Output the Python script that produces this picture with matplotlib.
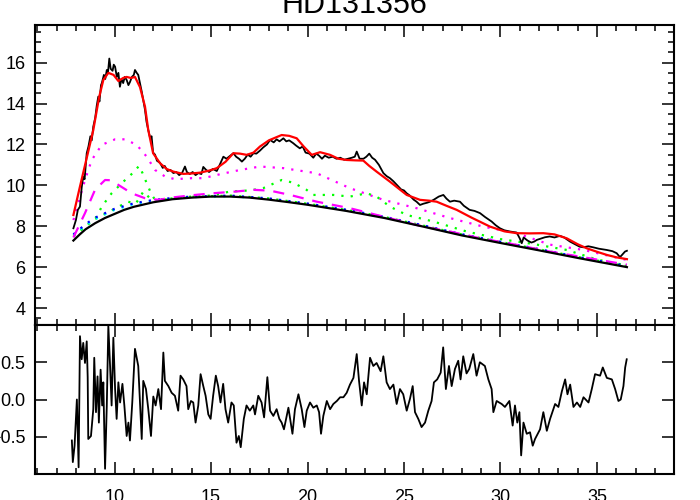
import matplotlib
matplotlib.use('Agg')
import matplotlib.pyplot as plt
from matplotlib.ticker import MultipleLocator
import numpy as np

plt.rcParams['font.family'] = ['Liberation Sans', 'DejaVu Sans']
plt.rcParams['font.size'] = 13

title = 'HD131356'

# observed spectrum (noisy black line)
obs_x = [7.87, 8.0, 8.1, 8.21, 8.3, 8.38, 8.45, 8.56, 8.65, 8.75, 8.82, 8.9, 9.0, 9.08, 9.16, 9.22,
         9.3, 9.34, 9.45, 9.52, 9.6, 9.66, 9.73, 9.8, 9.9, 9.96, 10.03, 10.12, 10.2, 10.28, 10.36,
         10.45, 10.53, 10.63, 10.72, 10.8, 10.9, 11.0, 11.06, 11.15, 11.23, 11.32, 11.41, 11.5,
         11.58, 11.66, 11.75, 11.85, 11.92, 12.0, 12.1, 12.2, 12.36, 12.5, 12.6, 12.75, 12.9, 13.05,
         13.2, 13.35, 13.5, 13.65, 13.75, 13.9, 14.05, 14.2, 14.35, 14.5, 14.6, 14.75, 14.9, 15.1,
         15.3, 15.45, 15.64, 15.8, 16.0, 16.16, 16.3, 16.45, 16.6, 16.75, 16.9, 17.05, 17.2, 17.35,
         17.54, 17.7, 17.9, 18.06, 18.25, 18.4, 18.55, 18.75, 18.9, 19.05, 19.26, 19.4, 19.6, 19.75,
         19.9, 20.1, 20.3, 20.45, 20.6, 20.75, 20.9, 21.1, 21.3, 21.5, 21.7, 21.9, 22.1, 22.3, 22.45,
         22.55, 22.7, 22.9, 23.05, 23.2, 23.35, 23.5, 23.7, 23.93, 24.1, 24.27, 24.45, 24.65, 24.85,
         25.0, 25.14, 25.3, 25.5, 25.65, 25.83, 26.0, 26.2, 26.35, 26.55, 26.8, 27.04, 27.2, 27.38,
         27.6, 27.9, 28.1, 28.4, 28.65, 28.94, 29.2, 29.54, 29.75, 29.97, 30.2, 30.5, 30.84, 31.0,
         31.1, 31.2, 31.4, 31.6, 31.75, 31.88, 32.1, 32.3, 32.55, 32.8, 33.08, 33.3, 33.6, 33.9,
         34.1, 34.29, 34.55, 34.8, 35.1, 35.5, 35.8, 36.02, 36.19, 36.3, 36.45, 36.55]
obs_y = [7.9, 8.3, 8.8, 8.96, 9.9, 10.43, 10.3, 11.57, 11.9, 12.4, 12.2, 12.87, 13.3, 13.9, 14.34, 14.1,
         14.9, 14.99, 15.4, 15.2, 15.64, 15.5, 16.2, 15.7, 15.6, 15.9, 15.8, 15.3, 15.5, 14.82, 15.2,
         15.0, 15.3, 15.15, 14.9, 15.05, 15.3, 15.4, 15.64, 15.5, 15.4, 15.0, 14.58, 14.1,
         13.69, 13.1, 12.7, 12.3, 12.4, 11.6, 11.5, 11.2, 11.1, 10.85, 10.95, 10.7, 10.75, 10.6,
         10.65, 10.5, 10.6, 10.92, 10.65, 10.55, 10.65, 10.5, 10.6, 10.55, 10.9, 10.75, 10.65, 10.8,
         10.7, 11.0, 11.4, 11.3, 11.45, 11.57, 11.4, 11.3, 11.16, 11.3, 11.5, 11.4, 11.57, 11.55,
         11.7, 11.85, 12.0, 12.22, 12.1, 12.25, 12.15, 12.3, 12.15, 12.2, 12.06, 11.95, 11.81, 11.9,
         11.6, 11.55, 11.35, 11.55, 11.45, 11.3, 11.45, 11.35, 11.4, 11.3, 11.35, 11.25, 11.3, 11.35, 11.4,
         11.65, 11.3, 11.3, 11.4, 11.55, 11.35, 11.25, 11.0, 10.6, 10.45, 10.35, 10.2, 10.0, 9.8,
         9.75, 9.61, 9.5, 9.3, 9.2, 9.04, 9.1, 9.15, 9.2, 9.3, 9.45, 9.53, 9.35, 9.2,
         9.25, 9.2, 9.0, 8.8, 8.75, 8.64, 8.45, 8.23, 8.05, 7.9, 7.8, 7.74, 7.69, 7.4,
         7.17, 7.45, 7.3, 7.2, 7.25, 7.33, 7.4, 7.46, 7.5, 7.45, 7.53, 7.45, 7.25, 7.1,
         7.0, 6.97, 7.02, 6.97, 6.9, 6.84, 6.78, 6.68, 6.49, 6.6, 6.76, 6.8]

# total model (red)
model_x = [7.87, 8.2, 8.5, 8.9, 9.2, 9.42, 9.68, 9.95, 10.2, 10.45, 10.63, 10.85, 11.06, 11.32, 11.58,
           11.75, 12.0, 12.36, 12.7, 13.05, 13.56, 14.0, 14.43, 14.9, 15.3, 15.75, 16.16, 16.5, 16.85,
           17.2, 17.54, 18.0, 18.66, 19.05, 19.44, 19.8, 20.22, 20.65, 21.17, 21.6, 22.03, 22.5, 22.89,
           23.2, 23.58, 24.27, 25.14, 25.83, 26.3, 26.69, 27.2, 27.73, 28.5, 29.46, 30.2, 30.84, 31.5,
           32.22, 32.8, 33.43, 34.0, 34.47, 35.0, 35.5, 36.0, 36.55]
model_y = [8.55, 9.9, 11.1, 12.7, 14.3, 15.15, 15.5, 15.4, 15.1, 15.25, 15.3, 15.25, 15.3, 14.8, 13.85,
           12.7, 11.57, 11.08, 10.8, 10.67, 10.56, 10.58, 10.62, 10.72, 10.84, 11.15, 11.57, 11.55, 11.49,
           11.6, 11.9, 12.2, 12.46, 12.42, 12.3, 11.9, 11.49, 11.62, 11.49, 11.3, 11.24, 11.22, 11.21,
           10.95, 10.67, 10.18, 9.53, 9.29, 9.25, 9.2, 9.0, 8.8, 8.42, 7.98, 7.75, 7.66, 7.65,
           7.66, 7.6, 7.41, 7.12, 6.92, 6.75, 6.6, 6.48, 6.39]

# continuum (black smooth)
cont_x = [7.87, 8.2, 8.5, 9.0, 9.5, 10.0, 10.5, 11.0, 12.0, 13.0, 14.0, 15.0, 16.0, 17.0, 18.0, 19.0,
          20.0, 22.0, 24.0, 26.0, 28.0, 30.0, 32.0, 34.0, 36.55]
cont_y = [7.3, 7.6, 7.85, 8.15, 8.4, 8.6, 8.8, 8.95, 9.17, 9.32, 9.4, 9.45, 9.45, 9.4, 9.3, 9.18,
          9.05, 8.75, 8.4, 7.98, 7.55, 7.18, 6.82, 6.45, 6.0]

# cyan / blue dotted components
cyan_x = [7.87, 8.5, 9.0, 10.0, 11.0, 12.0, 13.0, 14.0, 16.0, 18.0, 20.0, 22.0, 24.0, 26.0, 28.0, 30.0,
          32.0, 34.0, 36.55]
cyan_y = [7.55, 8.05, 8.35, 8.8, 9.08, 9.24, 9.35, 9.42, 9.47, 9.33, 9.08, 8.78, 8.43, 8.01, 7.58, 7.21,
          6.85, 6.48, 6.03]
blue_x = [7.87, 8.5, 9.0, 10.0, 11.0, 12.0, 13.0, 14.0, 16.0, 18.0, 20.0, 22.0, 24.0, 26.0, 28.0, 30.0,
          32.0, 34.0, 36.55]
blue_y = [7.6, 8.1, 8.42, 8.85, 9.12, 9.28, 9.38, 9.45, 9.5, 9.36, 9.11, 8.81, 8.46, 8.04, 7.61, 7.24,
          6.88, 6.5, 6.05]

# green dotted components
greenA_x = [7.87, 8.5, 9.08, 9.34, 9.85, 10.46, 11.0, 11.27, 11.45, 11.67, 11.93, 12.1, 13.0, 14.0, 15.0,
            16.0, 17.0, 17.7, 18.66, 19.26, 19.95, 20.3, 21.34, 22.2, 23.07, 23.58, 24.27, 25.14, 26.52,
            28.25, 30.0, 31.7, 33.43, 35.0, 36.55]
greenA_y = [7.55, 8.0, 8.47, 8.96, 9.61, 10.18, 10.65, 10.95, 10.6, 10.1, 9.53, 9.3, 9.36, 9.45, 9.5,
            9.7, 9.75, 9.86, 10.26, 10.13, 9.78, 9.53, 9.53, 9.45, 9.61, 9.45, 8.96, 8.55, 8.23,
            7.74, 7.37, 7.13, 6.84, 6.37, 6.08]
greenB_x = [7.87, 8.5, 9.0, 9.5, 10.0, 10.7, 11.1, 11.5, 11.8, 12.2, 13.0, 14.0, 16.0, 18.0, 20.0, 22.0,
            24.0, 26.0, 28.0, 30.0, 32.0, 34.0, 36.55]
greenB_y = [7.5, 8.0, 8.35, 8.6, 8.85, 9.2, 9.1, 9.7, 9.4, 9.25, 9.36, 9.44, 9.5, 9.36, 9.1, 8.8,
            8.45, 8.03, 7.6, 7.23, 6.87, 6.5, 6.05]

# magenta dashed component
mdash_x = [7.87, 8.47, 8.99, 9.51, 9.8, 10.2, 10.89, 11.58, 12.27, 13.13, 14.17, 15.2, 16.33, 17.2, 18.06,
           19.1, 20.48, 22.2, 23.93, 26.0, 27.38, 29.0, 30.5, 32.56, 34.5, 36.55]
mdash_y = [7.45, 8.64, 9.78, 10.26, 10.25, 10.02, 9.61, 9.37, 9.29, 9.42, 9.53, 9.62, 9.7, 9.78, 9.74,
           9.53, 9.2, 8.88, 8.47, 7.98, 7.74, 7.4, 7.15, 6.76, 6.45, 6.12]

# magenta dotted component
mdot_x = [7.87, 8.47, 8.82, 9.34, 10.03, 10.54, 11.15, 11.67, 12.1, 12.62, 13.13, 14.0, 14.6, 15.5,
          16.5, 17.54, 18.75, 20.48, 22.2, 23.93, 25.66, 27.38, 29.11, 30.84, 32.56, 34.3, 36.55]
mdot_y = [8.3, 10.26, 11.24, 11.98, 12.25, 12.25, 11.98, 11.4, 10.75, 10.43, 10.3, 10.35, 10.35, 10.55,
          10.75, 10.92, 10.84, 10.59, 9.86, 9.29, 8.88, 8.4, 7.98, 7.66, 7.1, 6.84, 6.35]

# residuals (lower panel)
res_x = [7.79, 7.84, 7.93, 8.05, 8.14, 8.21, 8.3, 8.38, 8.47, 8.56, 8.61, 8.64, 8.78, 8.9, 8.95, 9.04,
         9.12, 9.19, 9.28, 9.36, 9.42, 9.51, 9.6, 9.68, 9.77, 9.85, 9.94, 10.03, 10.11, 10.2, 10.29,
         10.41, 10.51, 10.63, 10.72, 10.8, 10.92, 11.06, 11.23, 11.41, 11.49, 11.63, 11.75, 11.89,
         12.01, 12.13, 12.27, 12.41, 12.53, 12.61, 12.79, 12.96, 13.13, 13.3, 13.42, 13.56, 13.73,
         13.82, 13.96, 14.08, 14.2, 14.34, 14.46, 14.6, 14.72, 14.86, 14.98, 15.11, 15.25, 15.37,
         15.49, 15.63, 15.75, 15.89, 16.06, 16.18, 16.32, 16.44, 16.54, 16.7, 16.84, 17.01, 17.19,
         17.28, 17.45, 17.62, 17.75, 17.92, 18.06, 18.23, 18.4, 18.54, 18.66, 18.78, 18.89, 19.01,
         19.22, 19.35, 19.53, 19.7, 19.84, 19.96, 20.13, 20.3, 20.48, 20.6, 20.7, 20.82, 21.0, 21.17,
         21.34, 21.52, 21.69, 21.86, 22.03, 22.2, 22.38, 22.55, 22.67, 22.81, 22.93, 23.07, 23.24,
         23.41, 23.58, 23.79, 23.93, 24.1, 24.27, 24.45, 24.62, 24.79, 24.96, 25.14, 25.31, 25.45,
         25.57, 25.74, 25.91, 26.09, 26.26, 26.43, 26.55, 26.72, 26.9, 27.03, 27.17, 27.33, 27.47,
         27.64, 27.81, 27.93, 28.07, 28.24, 28.38, 28.59, 28.76, 28.93, 29.19, 29.37, 29.54, 29.63,
         29.8, 30.06, 30.23, 30.46, 30.63, 30.75, 30.87, 30.98, 31.07, 31.19, 31.36, 31.53, 31.67,
         31.79, 32.05, 32.22, 32.4, 32.57, 32.83, 33.0, 33.18, 33.35, 33.47, 33.61, 33.78, 33.96,
         34.13, 34.3, 34.56, 34.73, 34.9, 35.16, 35.3, 35.51, 35.77, 35.94, 36.11, 36.23, 36.37,
         36.46, 36.54]
res_y = [-0.55, -0.84, -0.62, 0.0, -0.91, 0.85, 0.54, 0.76, 0.49, 0.78, 0.3, -0.53, -0.49, -0.13, 0.56,
         -0.17, 0.31, -0.31, 0.4, -0.08, 0.23, -0.93, -0.08, 0.99, 0.45, -0.08, 0.83, 0.14, -0.26, 0.23,
         -0.04, 0.21, -0.08, -0.49, -0.31, -0.55, -0.04, 0.68, 0.45, -0.53, 0.25, 0.14, -0.13, -0.49,
         0.04, -0.08, 0.14, -0.13, 0.63, 0.25, 0.18, 0.09, 0.05, -0.15, 0.32, 0.27, 0.18,
         -0.13, -0.02, -0.04, -0.31, -0.08, 0.34, 0.18, 0.05, -0.2, -0.26, 0.05, 0.32, 0.18,
         -0.04, 0.21, -0.13, -0.31, -0.04, -0.08, -0.58, -0.49, -0.64, -0.26, -0.08, -0.15, -0.08,
         -0.2, 0.05, -0.04, -0.24, 0.3, -0.15, -0.22, -0.13, -0.26, -0.31, -0.4, -0.26, -0.11,
         -0.46, -0.13, 0.07, -0.13, -0.37, -0.15, -0.04, -0.11, -0.08, -0.17, -0.46, -0.22, -0.02, -0.13,
         -0.06, -0.02, 0.03, 0.03, 0.09, 0.2, 0.29, 0.61, 0.25, -0.08, 0.23, 0.07, 0.56,
         0.45, 0.49, 0.38, 0.58, 0.23, 0.14, 0.2, -0.06, 0.14, 0.07, -0.15, 0.01, 0.18,
         -0.17, -0.26, -0.37, -0.31, -0.15, -0.02, 0.23, 0.27, 0.36, 0.7, 0.14, 0.45, 0.18,
         0.41, 0.52, 0.27, 0.58, 0.35, 0.41, 0.61, 0.32, 0.5, 0.45, 0.27, 0.14, -0.17,
         -0.02, -0.06, -0.1, -0.02, -0.35, -0.08, -0.31, -0.17, -0.75, -0.31, -0.46, -0.44, -0.62,
         -0.53, -0.4, -0.17, -0.42, -0.26, -0.06, -0.1, 0.11, 0.27, 0.07, 0.2, -0.1, -0.04,
         -0.1, 0.03, -0.04, 0.14, 0.34, 0.32, 0.43, 0.29, 0.27, 0.14, -0.02, 0.0, 0.18,
         0.43, 0.54]

W, H = 700, 500
fig = plt.figure(figsize=(7, 5), dpi=100)
left, right = 35, 674
ax1 = fig.add_axes([left / W, 1 - 325 / H, (right - left) / W, 300 / H])
ax2 = fig.add_axes([left / W, 1 - 474 / H, (right - left) / W, 149 / H])

dot = (0, (1, 3.2))
ax1.plot(mdot_x, mdot_y, color='#ff00ff', lw=1.6, linestyle=dot)
ax1.plot(greenA_x, greenA_y, color='#00ff00', lw=1.6, linestyle=dot)
ax1.plot(greenB_x, greenB_y, color='#00ff00', lw=1.6, linestyle=dot)
ax1.plot(cyan_x, cyan_y, color='#00ffff', lw=1.6, linestyle=dot)
ax1.plot(blue_x, blue_y, color='#0000ff', lw=1.6, linestyle=dot)
ax1.plot(mdash_x, mdash_y, color='#ff00ff', lw=1.6, linestyle=(0, (5, 4)))
ax1.plot(cont_x, cont_y, color='black', lw=1.6)
ax1.plot(obs_x, obs_y, color='black', lw=1.3)
ax1.plot(model_x, model_y, color='red', lw=1.6)

ax2.plot(res_x, res_y, color='black', lw=1.3)

for ax in (ax1, ax2):
    ax.set_xlim(5.88, 38.99)
    ax.xaxis.set_major_locator(MultipleLocator(5))
    ax.xaxis.set_minor_locator(MultipleLocator(1))
    ax.tick_params(which='both', direction='in', top=True, right=True, width=1.1)
    ax.tick_params(which='major', length=8.5, pad=7)
    ax.tick_params(which='minor', length=4.3)
    for s in ax.spines.values():
        s.set_linewidth(1.5)

ax1.set_ylim(3.17, 17.84)
ax1.yaxis.set_major_locator(MultipleLocator(2))
ax1.yaxis.set_minor_locator(MultipleLocator(0.5))
ax1.tick_params(labelbottom=False)

ax2.set_ylim(-1.0, 1.0)
ax2.set_yticks([-0.5, 0.0, 0.5])
ax2.tick_params(axis='x', which='major', pad=10.5)

fig.text((left + right) / 2 / W, 1 - 13 / H, title, ha='center', va='baseline', fontsize=22)

fig.savefig('out.png', dpi=100)
